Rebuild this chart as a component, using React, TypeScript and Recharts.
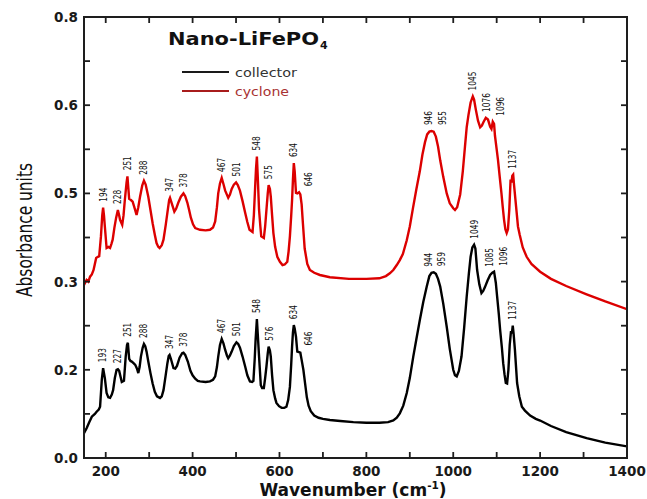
import { ComposedChart, Line, Scatter, XAxis, YAxis } from 'recharts';

// Absorbance spectra, wavenumber in cm-1
const collectorWn = [
  150, 156, 162, 168, 175, 179, 184, 187, 191, 194, 198, 202, 206, 210, 214, 217, 221, 225, 228, 231,
  234, 237, 242, 246, 249, 251, 254, 257, 260, 264, 268, 272, 275, 278, 281, 285, 288, 291, 294, 298,
  303, 308, 313, 318, 325, 329, 333, 338, 342, 345, 347, 350, 356, 360, 364, 370, 376, 379, 383, 389,
  395, 400, 406, 412, 417, 430, 440, 447, 452, 456, 459, 463, 467, 471, 475, 479, 482, 486, 490, 495,
  501, 505, 509, 515, 521, 526, 532, 537, 540, 543, 545, 548, 550, 553, 557, 560, 564, 567, 570, 573,
  575, 578, 580, 583, 586, 590, 593, 599, 605, 611, 616, 620, 624, 627, 629, 631, 633, 635, 638, 641,
  645, 648, 651, 655, 659, 663, 667, 672, 680, 690, 700, 716, 740, 770, 800, 830, 850, 862, 870, 877,
  885, 893, 900, 908, 915, 923, 931, 939, 945, 950, 955, 960, 965, 970, 977, 985, 992, 1000, 1004, 1008,
  1013, 1019, 1025, 1031, 1036, 1040, 1044, 1048, 1051, 1055, 1060, 1065, 1069, 1073, 1079, 1085, 1090, 1094, 1098, 1101,
  1105, 1108, 1112, 1115, 1118, 1121, 1124, 1127, 1130, 1133, 1135, 1137, 1139, 1142, 1145, 1147, 1152, 1158, 1165, 1177,
  1190, 1200, 1225, 1260, 1307, 1350, 1400,
];
const collectorAbs = [
  0.045, 0.054, 0.065, 0.075, 0.08, 0.084, 0.088, 0.093, 0.142, 0.163, 0.145, 0.118, 0.11, 0.109, 0.115, 0.123, 0.145, 0.16, 0.161, 0.158,
  0.148, 0.138, 0.14, 0.184, 0.205, 0.209, 0.18, 0.176, 0.175, 0.172, 0.169, 0.162, 0.154, 0.165, 0.184, 0.2, 0.207, 0.203, 0.193, 0.175,
  0.154, 0.135, 0.12, 0.112, 0.109, 0.112, 0.123, 0.15, 0.172, 0.185, 0.187, 0.18, 0.163, 0.162, 0.167, 0.182, 0.19, 0.191, 0.187, 0.175,
  0.158, 0.15, 0.144, 0.14, 0.139, 0.138, 0.139, 0.142, 0.148, 0.165, 0.184, 0.205, 0.216, 0.208, 0.196, 0.186, 0.181, 0.186, 0.193, 0.203,
  0.21, 0.207, 0.2, 0.184, 0.166, 0.15, 0.139, 0.138, 0.14, 0.18, 0.214, 0.252, 0.225, 0.184, 0.132, 0.127, 0.127, 0.145, 0.166, 0.19,
  0.202, 0.195, 0.184, 0.15, 0.123, 0.108, 0.1, 0.094, 0.091, 0.091, 0.093, 0.105, 0.129, 0.17, 0.202, 0.228, 0.241, 0.235, 0.22, 0.193,
  0.192, 0.191, 0.178, 0.16, 0.135, 0.11, 0.095, 0.085, 0.077, 0.073, 0.071, 0.069, 0.067, 0.065, 0.064, 0.064, 0.065, 0.068, 0.073, 0.081,
  0.095, 0.118, 0.145, 0.184, 0.215, 0.25, 0.283, 0.311, 0.33, 0.336, 0.337, 0.334, 0.325, 0.311, 0.28, 0.238, 0.198, 0.16, 0.15, 0.148,
  0.158, 0.184, 0.235, 0.293, 0.335, 0.365, 0.382, 0.387, 0.38, 0.341, 0.315, 0.299, 0.303, 0.31, 0.322, 0.332, 0.336, 0.338, 0.318, 0.293,
  0.26, 0.232, 0.2, 0.172, 0.152, 0.136, 0.135, 0.16, 0.205, 0.23, 0.226, 0.24, 0.225, 0.196, 0.16, 0.136, 0.112, 0.093, 0.086, 0.077,
  0.071, 0.068, 0.058, 0.047, 0.036, 0.028, 0.021,
];

const cycloneWn = [
  150, 156, 160, 164, 168, 172, 175, 178, 182, 185, 189, 192, 194, 196, 198, 202, 206, 210, 213, 216,
  220, 224, 228, 231, 233, 238, 241, 244, 248, 250, 252, 254, 258, 262, 267, 271, 275, 279, 284, 288,
  292, 298, 303, 308, 313, 317, 321, 324, 329, 333, 338, 342, 346, 348, 352, 358, 362, 367, 373, 379,
  383, 388, 392, 396, 401, 406, 417, 430, 440, 447, 452, 456, 459, 463, 467, 471, 475, 482, 486, 490,
  495, 500, 504, 509, 515, 521, 526, 531, 538, 541, 544, 546, 548, 550, 553, 556, 558, 564, 567, 570,
  573, 575, 578, 580, 583, 586, 590, 595, 601, 607, 612, 618, 621, 624, 627, 629, 631, 633, 635, 638,
  641, 645, 648, 651, 654, 658, 664, 670, 680, 693, 716, 760, 800, 830, 845, 854, 862, 870, 877, 884,
  893, 900, 907, 915, 923, 929, 935, 940, 945, 950, 955, 960, 965, 970, 977, 985, 992, 1000, 1004, 1009,
  1016, 1022, 1027, 1031, 1035, 1040, 1045, 1048, 1052, 1057, 1062, 1066, 1070, 1075, 1080, 1085, 1088, 1091, 1094, 1096,
  1100, 1103, 1107, 1111, 1114, 1117, 1120, 1123, 1126, 1129, 1132, 1134, 1136, 1138, 1140, 1143, 1146, 1149, 1153, 1160,
  1169, 1180, 1200, 1225, 1260, 1307, 1350, 1400,
];
const cycloneAbs = [
  0.314, 0.323, 0.32, 0.329, 0.333, 0.341, 0.352, 0.363, 0.365, 0.366, 0.402, 0.44, 0.454, 0.44, 0.42, 0.381, 0.383, 0.381, 0.388, 0.396,
  0.418, 0.436, 0.45, 0.44, 0.432, 0.423, 0.44, 0.468, 0.5, 0.511, 0.49, 0.47, 0.468, 0.465, 0.452, 0.441, 0.455, 0.474, 0.494, 0.503,
  0.496, 0.474, 0.45, 0.426, 0.405, 0.39, 0.383, 0.381, 0.386, 0.396, 0.422, 0.445, 0.468, 0.472, 0.462, 0.447, 0.452, 0.463, 0.474, 0.48,
  0.475, 0.463, 0.45, 0.436, 0.424, 0.417, 0.414, 0.413, 0.414, 0.418, 0.429, 0.455, 0.48, 0.498, 0.508, 0.497, 0.485, 0.472, 0.478, 0.488,
  0.496, 0.5, 0.495, 0.485, 0.466, 0.445, 0.428, 0.414, 0.41, 0.44, 0.492, 0.525, 0.547, 0.51, 0.45, 0.42, 0.402, 0.399, 0.42, 0.45,
  0.48, 0.495, 0.488, 0.474, 0.44, 0.408, 0.383, 0.365, 0.356, 0.35, 0.351, 0.356, 0.375, 0.402, 0.44, 0.468, 0.505, 0.535, 0.52, 0.481,
  0.48, 0.482, 0.478, 0.46, 0.425, 0.38, 0.352, 0.341, 0.336, 0.332, 0.328, 0.325, 0.325, 0.326, 0.33, 0.335, 0.341, 0.35, 0.359, 0.37,
  0.395, 0.42, 0.452, 0.487, 0.52, 0.55, 0.573, 0.587, 0.592, 0.593, 0.592, 0.583, 0.565, 0.54, 0.51, 0.48, 0.462, 0.453, 0.45, 0.455,
  0.478, 0.52, 0.565, 0.6, 0.622, 0.645, 0.656, 0.65, 0.632, 0.612, 0.6, 0.603, 0.61, 0.617, 0.614, 0.601, 0.597, 0.61, 0.606, 0.585,
  0.56, 0.541, 0.51, 0.48, 0.455, 0.432, 0.415, 0.408, 0.415, 0.45, 0.505, 0.5, 0.512, 0.514, 0.495, 0.47, 0.445, 0.42, 0.405, 0.382,
  0.365, 0.352, 0.338, 0.325, 0.312, 0.297, 0.284, 0.27,
];

// Band positions marked on each trace
const collectorPeaks = [193, 227, 251, 288, 347, 378, 467, 501, 548, 576, 634, 646, 944, 959, 1049, 1085, 1096, 1137];
const cyclonePeaks = [194, 228, 251, 288, 347, 378, 467, 501, 548, 575, 634, 646, 946, 955, 1045, 1076, 1096, 1137];

const xTicks = [200, 300, 400, 500, 600, 700, 800, 900, 1000, 1100, 1200, 1300, 1400];
const yTicks = [0, 0.08, 0.16, 0.24, 0.32, 0.4, 0.48, 0.56, 0.64, 0.72, 0.8];

const toRows = (wn: number[], abs: number[]) => wn.map((w, i) => ({ wn: w, abs: abs[i] }));

// top of the trace around a band, used to sit the band label above it
function bandTop(wn: number[], abs: number[], at: number) {
  let best = -Infinity;
  wn.forEach((w, i) => {
    if (Math.abs(w - at) <= 6) best = Math.max(best, abs[i]);
  });
  if (best > -Infinity) return best;
  const j = wn.findIndex((w) => w > at);
  const t = (at - wn[j - 1]) / (wn[j] - wn[j - 1]);
  return abs[j - 1] + t * (abs[j] - abs[j - 1]);
}

function bandLabels(peaks: number[], wn: number[], abs: number[]) {
  return peaks.map((p, i) => {
    const prev = peaks[i - 1];
    const next = peaks[i + 1];
    let nudge = 0;
    if (next !== undefined && next - p <= 13) nudge = -1;
    if (prev !== undefined && p - prev <= 13) nudge = 9;
    else if (prev !== undefined && p - prev <= 22) nudge = 6;
    return { wn: p, abs: bandTop(wn, abs, p), text: String(p), nudge };
  });
}

const collectorData = toRows(collectorWn, collectorAbs);
const cycloneData = toRows(cycloneWn, cycloneAbs);
const collectorLabels = bandLabels(collectorPeaks, collectorWn, collectorAbs);
const cycloneLabels = bandLabels(cyclonePeaks, cycloneWn, cycloneAbs);

// plot box edges in px, ticks point inward on all four sides
const PLOT = { left: 84, right: 627, top: 17, bottom: 458 };
const TICK = 6;
const FRAME = '#1e1e1e';
const tickFont = { fill: '#1a1a1a', fontSize: 13.5, fontWeight: 'bold', fontFamily: 'DejaVu Sans' };

const BottomTick = (props: any) => {
  const { x, payload } = props;
  const v = payload.value;
  return (
    <g>
      <line x1={x} x2={x} y1={PLOT.bottom} y2={PLOT.bottom - TICK} stroke={FRAME} strokeWidth={1.8} />
      <line x1={x} x2={x} y1={PLOT.top} y2={PLOT.top + TICK} stroke={FRAME} strokeWidth={1.8} />
      {v % 200 === 0 && (
        <text x={x} y={476} textAnchor="middle" {...tickFont}>
          {v}
        </text>
      )}
    </g>
  );
};

const LeftTick = (props: any) => {
  const { y, payload, index } = props;
  return (
    <g>
      <line x1={PLOT.left} x2={PLOT.left + TICK} y1={y} y2={y} stroke={FRAME} strokeWidth={1.8} />
      <line x1={PLOT.right} x2={PLOT.right - TICK} y1={y} y2={y} stroke={FRAME} strokeWidth={1.8} />
      {index % 2 === 0 && (
        <text x={PLOT.left - 6} y={y} textAnchor="end" dominantBaseline="central" {...tickFont}>
          {payload.value.toFixed(1)}
        </text>
      )}
    </g>
  );
};

const BandLabel = (props: any) => {
  const { cx, cy, payload } = props;
  if (cx == null || cy == null) return null;
  return (
    <text
      transform={`translate(${cx + payload.nudge},${cy - 6}) rotate(-90)`}
      textAnchor="start"
      dominantBaseline="central"
      fontSize={11}
      fontFamily="'DejaVu Sans Condensed', 'Liberation Sans Narrow', 'DejaVu Sans'"
      fill="#111"
      textLength={payload.text.length * 4.7}
      lengthAdjust="spacingAndGlyphs"
    >
      {payload.text}
    </text>
  );
};

const XTitle = () => (
  <text x={353} y={496} textAnchor="middle" fontFamily="DejaVu Sans" fontWeight="bold" fontSize={17} fill="#111">
    Wavenumber (cm
    <tspan fontSize={10.5} dy={-7}>-1</tspan>
    <tspan dy={7}>)</tspan>
  </text>
);

const YTitle = () => (
  <text
    transform="translate(32,230) rotate(-90)"
    textAnchor="middle"
    fontFamily="DejaVu Sans"
    fontSize={21}
    fill="#111"
    textLength={134}
    lengthAdjust="spacingAndGlyphs"
  >
    Absorbance units
  </text>
);

export default function App() {
  return (
    <div style={{ position: 'absolute', left: 0, top: 0, width: 647, height: 499, background: '#fff' }}>
      <ComposedChart width={647} height={499} margin={{ top: 17, right: 20, bottom: 0, left: 0 }}>
        <XAxis
          xAxisId="bottom"
          type="number"
          dataKey="wn"
          domain={[150, 1400]}
          ticks={xTicks}
          interval={0}
          height={41}
          tickSize={0}
          tickMargin={0}
          tick={BottomTick}
          axisLine={false}
          tickLine={false}
          allowDataOverflow
          label={<XTitle />}
        />
        <YAxis
          yAxisId="left"
          type="number"
          domain={[0, 0.8]}
          ticks={yTicks}
          interval={0}
          width={84}
          tickSize={0}
          tickMargin={0}
          tick={LeftTick}
          axisLine={false}
          tickLine={false}
          allowDataOverflow
          label={<YTitle />}
        />
        <Line
          xAxisId="bottom"
          yAxisId="left"
          data={collectorData}
          dataKey="abs"
          name="collector"
          type="linear"
          stroke="#000"
          strokeWidth={2.4}
          dot={false}
          activeDot={false}
          isAnimationActive={false}
        />
        <Line
          xAxisId="bottom"
          yAxisId="left"
          data={cycloneData}
          dataKey="abs"
          name="cyclone"
          type="linear"
          stroke="#dc0000"
          strokeWidth={2.4}
          dot={false}
          activeDot={false}
          isAnimationActive={false}
        />
        <Scatter
          xAxisId="bottom"
          yAxisId="left"
          data={collectorLabels}
          dataKey="abs"
          shape={BandLabel}
          isAnimationActive={false}
        />
        <Scatter
          xAxisId="bottom"
          yAxisId="left"
          data={cycloneLabels}
          dataKey="abs"
          shape={BandLabel}
          isAnimationActive={false}
        />
      </ComposedChart>
      <svg width={647} height={499} style={{ position: 'absolute', left: 0, top: 0, pointerEvents: 'none' }}>
        {/* box around the plot */}
        <rect
          x={PLOT.left}
          y={PLOT.top}
          width={PLOT.right - PLOT.left}
          height={PLOT.bottom - PLOT.top}
          fill="none"
          stroke={FRAME}
          strokeWidth={2}
        />
        <text
          x={168}
          y={45}
          fontFamily="DejaVu Sans"
          fontWeight="bold"
          fontSize={17}
          fill="#111"
          textLength={151}
          lengthAdjust="spacingAndGlyphs"
        >
          Nano-LiFePO
        </text>
        <text x={320} y={49} fontFamily="DejaVu Sans" fontWeight="bold" fontSize={11} fill="#111">
          4
        </text>
        <line x1={182} x2={229} y1={72} y2={72} stroke="#1a1a1a" strokeWidth={2} />
        <text
          x={235}
          y={72}
          dominantBaseline="central"
          fontFamily="DejaVu Sans"
          fontSize={13}
          fill="#333"
          textLength={62}
          lengthAdjust="spacingAndGlyphs"
        >
          collector
        </text>
        <line x1={182} x2={229} y1={91} y2={91} stroke="#a81c1c" strokeWidth={2} />
        <text
          x={235}
          y={91}
          dominantBaseline="central"
          fontFamily="DejaVu Sans"
          fontSize={13}
          fill="#a83232"
          textLength={54}
          lengthAdjust="spacingAndGlyphs"
        >
          cyclone
        </text>
      </svg>
    </div>
  );
}
